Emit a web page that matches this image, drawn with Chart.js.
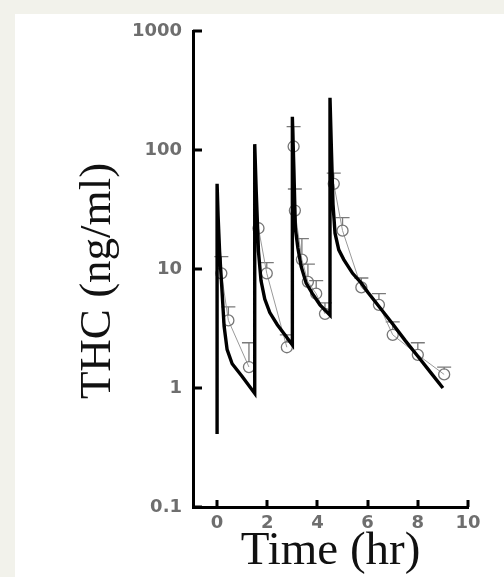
<!DOCTYPE html>
<html>
<head>
<meta charset="utf-8">
<script src="https://cdn.jsdelivr.net/npm/chart.js@4.4.0/dist/chart.umd.min.js"></script>
<style>
  html, body { margin: 0; padding: 0; }
  body { width: 504px; height: 577px; background: #f2f2eb; position: relative; overflow: hidden; }
  #panel { position: absolute; left: 15px; top: 14px; right: 0; bottom: 0; background: #fff; }
  #thc { position: absolute; left: 0; top: 0; }
</style>
</head>
<body>
<div id="panel"></div>
<canvas id="thc" width="504" height="577"></canvas>
<script>
// model prediction (thick black line), time in hr, THC in ng/ml
var modelTime = [0, 0, 0.04, 0.1, 0.18, 0.28, 0.4, 0.6, 1.0, 1.5,
                 1.5, 1.56, 1.65, 1.75, 1.9, 2.1, 2.4, 2.7, 3.0,
                 3.0, 3.06, 3.12, 3.22, 3.35, 3.55, 3.8, 4.1, 4.5,
                 4.5, 4.56, 4.62, 4.7, 4.85, 5.05, 5.4, 5.75, 6.0, 6.5, 7.0, 7.5, 8.0, 8.5, 9.0];
var modelConc = [0.41, 52, 28, 14, 7.5, 3.3, 2.1, 1.6, 1.25, 0.9,
                 112, 45, 14, 8, 5.6, 4.3, 3.4, 2.8, 2.3,
                 190, 70, 22, 15, 10.5, 7.6, 6.2, 5.0, 4.1,
                 275, 95, 35, 20, 14.5, 12, 9.2, 7.6, 6.4, 4.7, 3.45, 2.5, 1.85, 1.36, 1.0];

// observed means (open circles) and mean + SD (error bar tops)
var obsTime  = [0.17, 0.45, 1.27, 1.65, 1.98, 2.78, 3.05, 3.1, 3.38, 3.62, 3.95, 4.3, 4.65, 5.0, 5.75, 6.45, 7.0, 8.0, 9.05];
var obsMean  = [9.2, 3.7, 1.5, 22, 9.2, 2.2, 107, 31, 12, 7.8, 6.2, 4.2, 52, 21, 7.0, 5.0, 2.8, 1.9, 1.3];
var obsUpper = [12.7, 4.8, 2.4, null, 11.3, 2.8, 157, 47, 18, 11, 8, 5.2, 64, 27, 8.4, 6.2, 3.6, 2.4, 1.5];
var obsDose  = [1, 1, 1, 2, 2, 2, 3, 3, 3, 3, 3, 3, 4, 4, 4, 4, 4, 4, 4];

var xTicks = [0, 2, 4, 6, 8, 10];
var yTicks = [0.1, 1, 10, 100, 1000];
var yTitle = 'THC (ng/ml)';

var modelPoints = modelTime.map(function (t, i) { return {x: t, y: modelConc[i]}; });
var obsPoints = [];
obsTime.forEach(function (t, i) {
  if (i > 0 && obsDose[i] !== obsDose[i - 1]) obsPoints.push({x: t, y: null});
  obsPoints.push({x: t, y: obsMean[i]});
});

var errorBars = {
  id: 'errorBars',
  beforeDatasetsDraw: function (chart) {
    var ctx = chart.ctx, xs = chart.scales.x, ys = chart.scales.y;
    ctx.save();
    ctx.strokeStyle = '#7a7a7a';
    ctx.lineWidth = 1.3;
    obsTime.forEach(function (t, i) {
      if (obsUpper[i] == null) return;
      var px = xs.getPixelForValue(t);
      var p0 = ys.getPixelForValue(obsMean[i]) - 5;
      var p1 = ys.getPixelForValue(obsUpper[i]);
      ctx.beginPath();
      ctx.moveTo(px, p0); ctx.lineTo(px, p1);
      ctx.moveTo(px - 7, p1); ctx.lineTo(px + 7, p1);
      ctx.stroke();
    });
    ctx.restore();
  }
};

// tick marks point into the plot, y title sits a bit below centre
var axisExtras = {
  id: 'axisExtras',
  afterDraw: function (chart) {
    var ctx = chart.ctx, area = chart.chartArea;
    ctx.save();
    ctx.strokeStyle = '#000';
    ctx.lineWidth = 3;
    ctx.beginPath();
    yTicks.forEach(function (v) {
      var py = Math.round(chart.scales.y.getPixelForValue(v));
      ctx.moveTo(area.left, py); ctx.lineTo(area.left + 9, py);
    });
    xTicks.forEach(function (v) {
      var px = Math.round(chart.scales.x.getPixelForValue(v));
      ctx.moveTo(px, area.bottom); ctx.lineTo(px, area.bottom - 7);
    });
    ctx.stroke();

    ctx.translate(98, (area.top + area.bottom) / 2 + 12);
    ctx.rotate(-Math.PI / 2);
    ctx.fillStyle = '#111';
    ctx.font = '45px "Liberation Serif"';
    ctx.textAlign = 'center';
    ctx.textBaseline = 'middle';
    ctx.fillText(yTitle, 0, 0);
    ctx.restore();
  }
};

var tickFont = { family: 'DejaVu Sans', size: 18, weight: 'bold' };

new Chart('thc', {
  type: 'line',
  data: {
    datasets: [{
      data: modelPoints,
      borderColor: '#000',
      borderWidth: 3.4,
      pointRadius: 0,
      tension: 0
    }, {
      data: obsPoints,
      borderColor: '#9a9a9a',
      borderWidth: 1,
      pointRadius: 5.5,
      pointBorderColor: '#777',
      pointBorderWidth: 1.3,
      pointBackgroundColor: 'rgba(0,0,0,0)',
      spanGaps: false,
      tension: 0
    }]
  },
  options: {
    responsive: false,
    animation: false,
    layout: { padding: { top: 31, right: 36, left: 0, bottom: 0 } },
    plugins: { legend: { display: false }, tooltip: { enabled: false } },
    scales: {
      x: {
        type: 'linear', min: -0.96, max: 10,
        afterBuildTicks: function (s) { s.ticks = xTicks.map(function (v) { return {value: v}; }); },
        afterFit: function (s) { s.height = 70; },
        grid: { display: false, drawTicks: false },
        border: { display: true, color: '#000', width: 3 },
        ticks: { color: '#6e6e6e', font: tickFont, padding: 6, maxRotation: 0, autoSkip: false },
        title: { display: true, text: 'Time (hr)', color: '#111',
                 font: { family: 'Liberation Serif', size: 47, lineHeight: 1 }, padding: { top: 0, bottom: 2 } }
      },
      y: {
        type: 'logarithmic', min: 0.1, max: 1000,
        afterBuildTicks: function (s) { s.ticks = yTicks.map(function (v) { return {value: v}; }); },
        afterFit: function (s) { s.width = 193; },
        grid: { display: false, drawTicks: false },
        border: { display: true, color: '#000', width: 3 },
        ticks: { color: '#6e6e6e', font: tickFont, padding: 11, autoSkip: false,
                 callback: function (v) { return String(v); } }
      }
    }
  },
  plugins: [errorBars, axisExtras]
});
</script>
</body>
</html>
